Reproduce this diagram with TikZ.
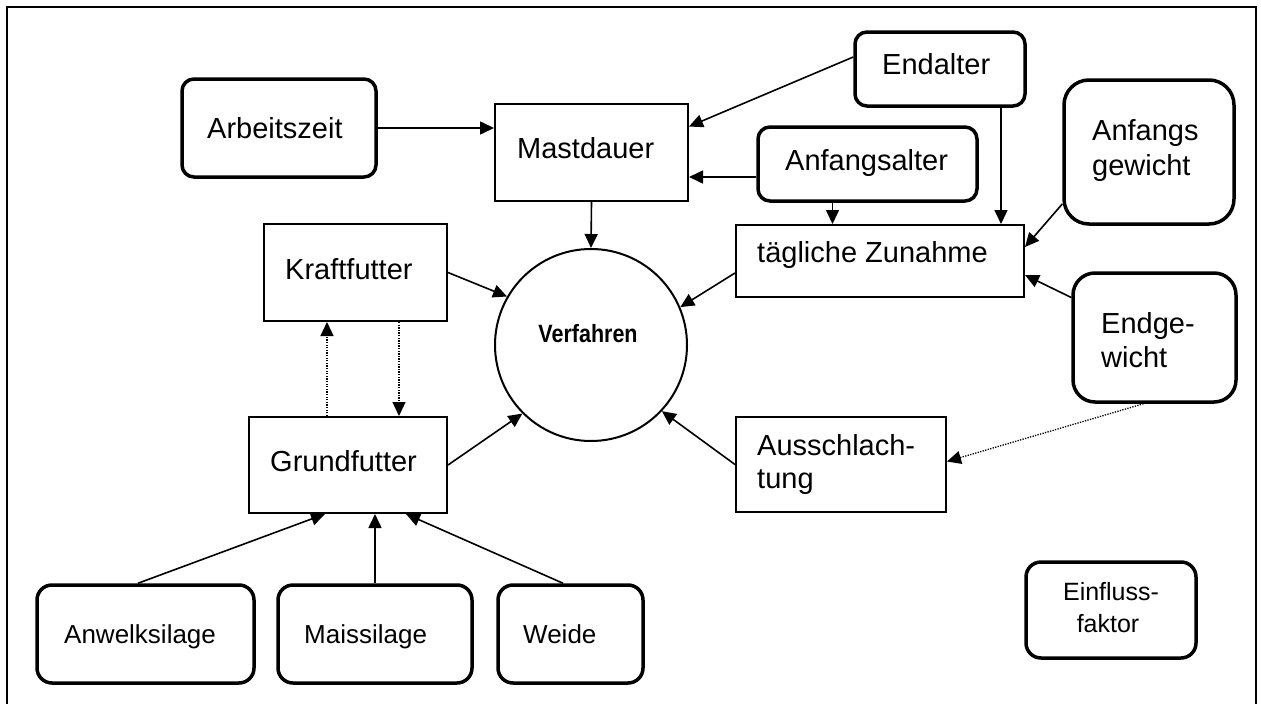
\documentclass[tikz,border=0pt]{standalone}
\usepackage{fontspec}
\setmainfont{Liberation Sans}
\newfontfamily\narrowbold[FakeStretch=0.86]{Liberation Sans Bold}
\usetikzlibrary{arrows.meta,calc}
\tikzset{
  box/.style={draw, line width=2pt, rectangle, inner sep=0pt},
  rbox/.style={draw, line width=3.5pt, rectangle, rounded corners=#1, inner sep=0pt},
  rbox/.default=12pt,
  txt/.style={inner sep=0pt, anchor=base west, font=\fontsize{29}{34}\selectfont},
  stxt/.style={inner sep=0pt, anchor=base west, font=\fontsize{26}{31}\selectfont},
  arr/.style={line width=1.6pt, -{Triangle[length=14pt,width=13pt]}},
  darr/.style={line width=1.3pt, dash pattern=on 1.3pt off 1.3pt, -{Triangle[length=14pt,width=13pt]}},
}
\begin{document}
\begin{tikzpicture}[x=1pt,y=-1pt]
\useasboundingbox (0,0) rectangle (1261,704);
% frame
\coordinate (fbl) at (7,704);
\coordinate (ftl) at (7,7);
\coordinate (ftr) at (1256,7);
\coordinate (fbr) at (1256,704);
\draw[line width=2pt] (fbl) -- (ftl) -- (ftr) -- (fbr);

% boxes
\node[rbox, minimum width=194, minimum height=98] (arb) at (279,128) {};
\node[box, minimum width=193, minimum height=97] (mast) at (591.5,152.5) {};
\node[rbox, minimum width=170, minimum height=74] (endalt) at (940,69) {};
\node[rbox, minimum width=219, minimum height=74] (anfalt) at (867.5,164) {};
\node[rbox=25pt, minimum width=170, minimum height=144] (anfgew) at (1149,152) {};
\node[box, minimum width=288, minimum height=72] (tag) at (880,261) {};
\node[rbox=22pt, minimum width=163, minimum height=129] (endgew) at (1154.5,337.5) {};
\node[box, minimum width=210, minimum height=95] (aus) at (841,464.5) {};
\node[draw, circle, line width=2pt, minimum size=192, inner sep=0pt] (verf) at (591,345) {};
\node[box, minimum width=183, minimum height=97] (kraft) at (355.5,272.5) {};
\node[box, minimum width=198, minimum height=96] (grund) at (348,465) {};
\node[rbox=15pt, minimum width=217, minimum height=98] (anw) at (145.5,634) {};
\node[rbox=15pt, minimum width=194, minimum height=98] (mais) at (375,634) {};
\node[rbox=15pt, minimum width=145, minimum height=98] (weide) at (570.5,634) {};
\node[rbox=15pt, minimum width=170, minimum height=96] (einf) at (1111,610) {};

% texts
\node[txt] (t-arb) at (207,138) {Arbeitszeit};
\node[txt] (t-mast) at (517,158) {Mastdauer};
\node[txt] (t-endalt) at (882,74) {Endalter};
\node[txt] (t-anfalt) at (785,170) {Anfangsalter};
\node[txt] (t-anfgew1) at (1092,140) {Anfangs};
\node[txt] (t-anfgew2) at (1092,175) {gewicht};
\node[txt] (t-tag) at (757,262) {tägliche Zunahme};
\node[txt] (t-endgew1) at (1101,333) {Endge-};
\node[txt] (t-endgew2) at (1101,367) {wicht};
\node[txt] (t-aus1) at (757,455) {Ausschlach-};
\node[txt] (t-aus2) at (757,488) {tung};
\node[txt] (t-kraft) at (285,279) {Kraftfutter};
\node[txt] (t-grund) at (270,471) {Grundfutter};
\node[inner sep=0pt, anchor=base, font=\narrowbold\fontsize{25}{30}\selectfont] (t-verf) at (588,342) {Verfahren};
\node[stxt] (t-anw) at (64,643) {Anwelksilage};
\node[stxt] (t-mais) at (304,643) {Maissilage};
\node[stxt] (t-weide) at (523,643) {Weide};
\node[inner sep=0pt, anchor=base, font=\fontsize{25}{30}\selectfont] (t-einf1) at (1111,600) {Einfluss-};
\node[inner sep=0pt, anchor=base, font=\fontsize{25}{30}\selectfont] (t-einf2) at (1108,632) {faktor};

% connectors
\draw[arr] (arb.east) -- (arb.east -| mast.west);
\draw[arr] ([yshift=12pt]endalt.west) -- ([yshift=26pt]mast.east);
\draw[arr] ([yshift=-13pt]anfalt.west) -- ([yshift=-13pt]anfalt.west -| mast.east);
\draw[arr] ([xshift=-35pt]anfalt.south) -- ([xshift=-35pt]anfalt.south |- tag.north);
\draw[arr] ([xshift=61pt]endalt.south) -- ([xshift=61pt]endalt.south |- tag.north);
\draw[arr] ([yshift=-52pt]anfgew.west) -- ([yshift=14pt]tag.east);
\draw[arr] ([yshift=40pt]endgew.west) -- ([yshift=-14pt]tag.east);
\draw[darr] ([xshift=-11pt]endgew.south) -- ([yshift=3pt]aus.east);
\draw[arr] (aus.west) -- (verf.-43);
\draw[arr] ([yshift=-12pt]tag.west) -- (verf.23);
\draw[arr] (mast.south) -- (verf.north);
\draw[arr] (kraft.east) -- (verf.150);
\draw[arr] (grund.east) -- (verf.225);
\draw[darr] ([xshift=-21pt]grund.north) -- ([xshift=-21pt]grund.north |- kraft.south);
\draw[darr] ([xshift=43.5pt]kraft.south) -- ([xshift=43.5pt]kraft.south |- grund.north);
\draw[arr] ([xshift=-7.5pt]anw.north) -- ([xshift=-23pt]grund.south);
\draw[arr] (mais.north) -- (mais.north |- grund.south);
\draw[arr] ([xshift=-7.5pt]weide.north) -- ([xshift=58pt]grund.south);
\end{tikzpicture}
\end{document}
